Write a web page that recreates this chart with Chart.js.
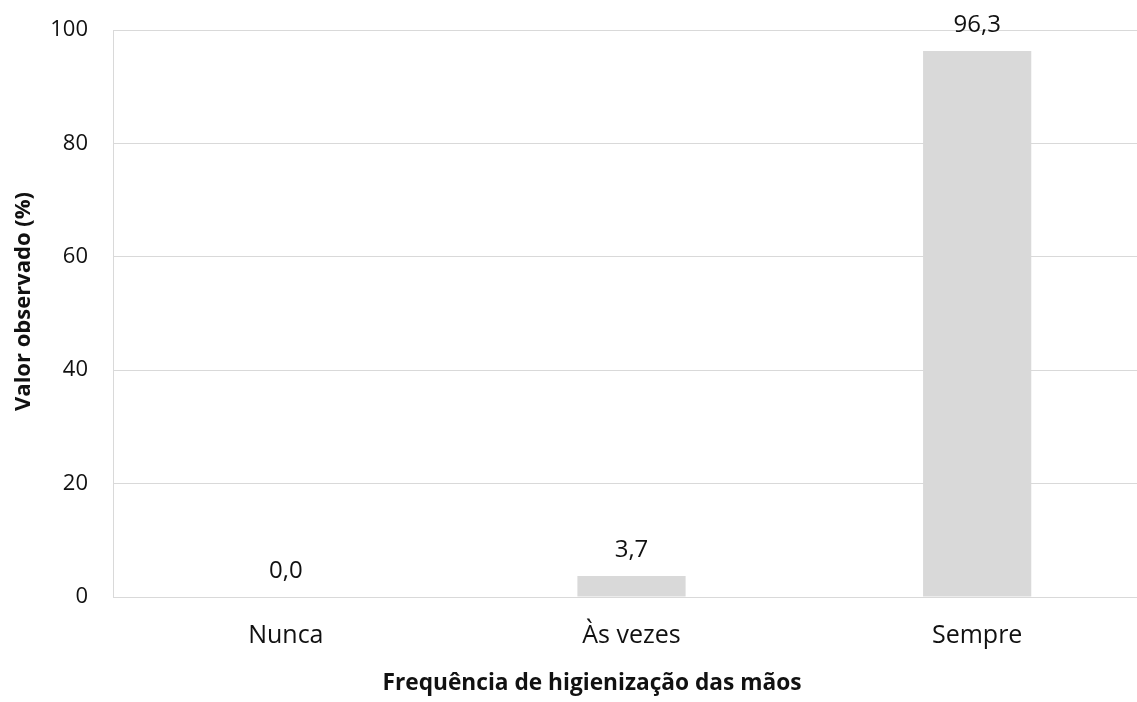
<!DOCTYPE html>
<html>
<head>
<meta charset="utf-8">
<script src="https://cdn.jsdelivr.net/npm/chart.js@4/dist/chart.umd.min.js"></script>
<style>
  html, body { margin: 0; padding: 0; background: #fff; overflow: hidden; }
  #wrap { width: 1150px; height: 702px; }
</style>
</head>
<body>
<div id="wrap"><canvas id="barChart" width="1150" height="702"></canvas></div>
<script>
const categories = ['Nunca', 'Às vezes', 'Sempre'];
const valores = [0.0, 3.7, 96.3];
const yTicks = [0, 20, 40, 60, 80, 100];
const yTitle = 'Valor observado (%)';
const xTitle = 'Frequência de higienização das mãos';

const fontFamily = '"Open Sans", sans-serif';

// value labels above each bar (comma decimal) + both axis titles
const barLabels = {
  id: 'barLabels',
  afterDatasetsDraw(chart) {
    const ctx = chart.ctx;
    const meta = chart.getDatasetMeta(0);
    ctx.save();
    ctx.font = '24px ' + fontFamily;
    ctx.fillStyle = '#111';
    ctx.textAlign = 'center';
    ctx.textBaseline = 'middle';
    meta.data.forEach((bar, i) => {
      const txt = valores[i].toFixed(1).replace('.', ',');
      ctx.fillText(txt, bar.x, bar.y - 26);
    });

    ctx.font = 'bold 22.7px ' + fontFamily;
    ctx.fillText(xTitle, 592, 684);

    // y title sits a bit above the middle of the plot, like the original
    const area = chart.chartArea;
    ctx.translate(24, (area.top + area.bottom) / 2 - 12);
    ctx.rotate(-Math.PI / 2);
    ctx.font = 'bold 22px ' + fontFamily;
    ctx.fillText(yTitle, 0, 0);
    ctx.restore();
  }
};

new Chart(document.getElementById('barChart'), {
  type: 'bar',
  data: {
    labels: categories,
    datasets: [{
      data: valores,
      backgroundColor: '#d9d9d9',
      borderWidth: 0,
      categoryPercentage: 1,
      barPercentage: 0.313
    }]
  },
  options: {
    responsive: false,
    animation: false,
    layout: { padding: { top: 30, left: 0, right: 0, bottom: 0 } },
    plugins: {
      legend: { display: false },
      tooltip: { enabled: false },
      title: { display: false }
    },
    scales: {
      x: {
        grid: { display: false, drawTicks: false },
        border: { display: true, color: '#d9d9d9', width: 1 },
        ticks: { color: '#111', padding: 24, font: { family: fontFamily, size: 25 } },
        afterFit(scale) { scale.height = 105; }
      },
      y: {
        min: 0,
        max: 100,
        afterBuildTicks(scale) { scale.ticks = yTicks.map(v => ({ value: v })); },
        grid: { color: '#d9d9d9', lineWidth: 1, drawTicks: false },
        border: { display: true, color: '#d9d9d9', width: 1 },
        ticks: { color: '#111', padding: 25, font: { family: fontFamily, size: 22 } },
        afterFit(scale) {
          scale.width = 113;
          scale.paddingTop = 0;
          scale.paddingBottom = 0;
        }
      }
    }
  },
  plugins: [barLabels]
});
</script>
</body>
</html>
